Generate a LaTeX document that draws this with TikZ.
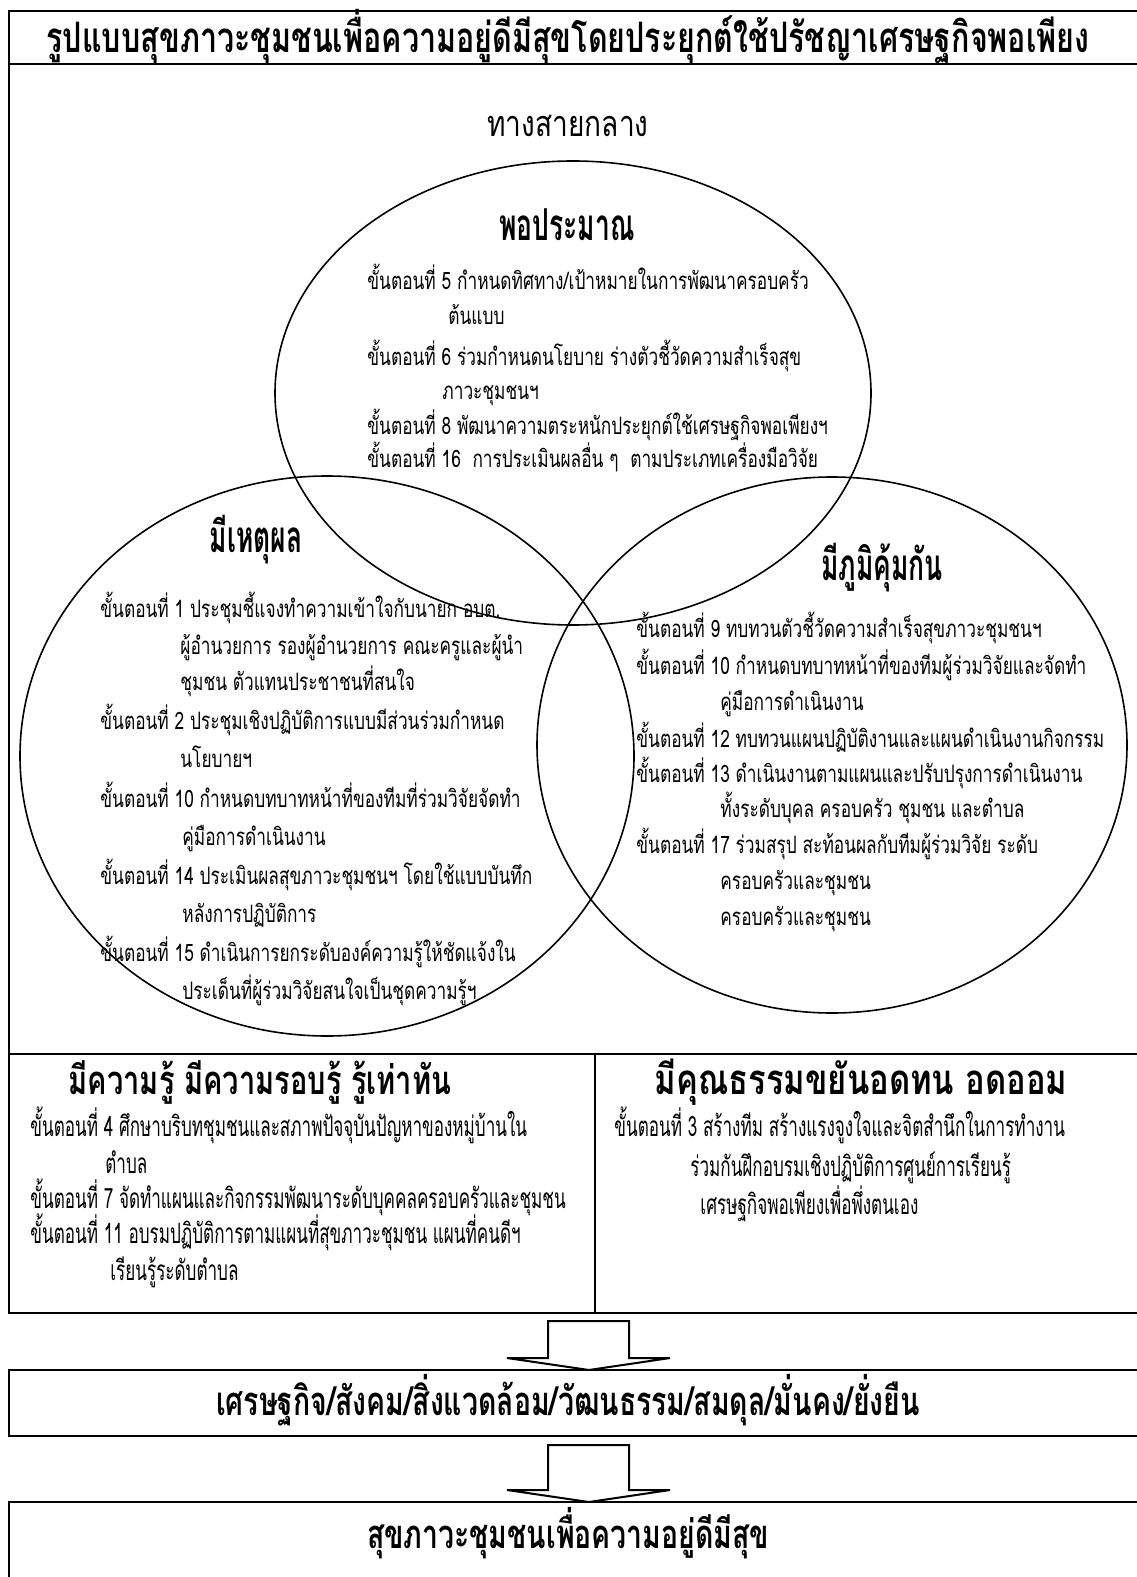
\documentclass[tikz,border=0pt]{standalone}
\usepackage{fontspec}
\usetikzlibrary{shapes.geometric}
\newfontfamily\thaiT[Script=Thai,FakeStretch=0.725]{Loma}
\newfontfamily\thaiBX[Script=Thai,FakeStretch=0.71]{Loma}
\newfontfamily\thaiM[Script=Thai,FakeStretch=0.78]{Loma}
\newfontfamily\thaiH[Script=Thai,FakeStretch=0.6]{Loma}
\newfontfamily\thaiB[Script=Thai,FakeStretch=0.72]{Loma}
\newfontfamily\thaiL[Script=Thai,FakeStretch=0.61]{Loma}
\tikzset{
  frame/.style={draw=black,line width=1pt},
  head/.style={inner sep=0,font=\thaiT\bfseries\fontsize{21}{24}\selectfont},
  boxhead/.style={inner sep=0,font=\thaiBX\bfseries\fontsize{20}{24}\selectfont},
  circhead/.style={inner sep=0,font=\thaiH\bfseries\fontsize{22}{26}\selectfont},
  bodyt/.style={anchor=base west,inner sep=0,font=\thaiB\fontsize{12}{14}\selectfont},
  lowt/.style={anchor=base west,inner sep=0,font=\thaiL\fontsize{14}{16}\selectfont},
  venn/.style={draw=black,line width=0.8pt,ellipse,inner sep=0},
  blockarrow/.style={draw=black,line width=1pt,fill=white},
}
\begin{document}
\begin{tikzpicture}[x=0.5pt,y=-0.5pt]
\useasboundingbox (0,0) rectangle (1136,1577);
\fill[white] (0,0) rectangle (1136,1577);
% main frame
\draw[frame] (9,11) rectangle (1145,1313);
\draw[frame] (9,64) -- (1145,64);
\draw[frame] (9,1054) -- (1145,1054);
\draw[frame] (595,1054) -- (595,1313);
\node[head] (title) at (568,36) {รูปแบบสุขภาวะชุมชนเพื่อความอยู่ดีมีสุขโดยประยุกต์ใช้ปรัชญาเศรษฐกิจพอเพียง};
\node[inner sep=0,font=\thaiM\fontsize{18}{20}\selectfont] (middle) at (568,126) {ทางสายกลาง};
% venn
\node[venn,minimum width=298pt,minimum height=232pt] (top) at (573,393) {};
\node[venn,minimum width=307pt,minimum height=280pt] (left) at (327,756) {};
\node[venn,minimum width=295pt,minimum height=268pt] (right) at (832,745) {};
% top circle
\node[circhead] (h1) at (567,225) {พอประมาณ};
\node[bodyt] (t1) at (367,290) {ขั้นตอนที่ 5 กำหนดทิศทาง/เป้าหมายในการพัฒนาครอบครัว};
\node[bodyt] (t2) at (448,325) {ต้นแบบ};
\node[bodyt] (t3) at (367,366) {ขั้นตอนที่ 6 ร่วมกำหนดนโยบาย ร่างตัวชี้วัดความสำเร็จสุข};
\node[bodyt] (t4) at (442,400) {ภาวะชุมชนฯ};
\node[bodyt] (t5) at (367,435) {ขั้นตอนที่ 8 พัฒนาความตระหนักประยุกต์ใช้เศรษฐกิจพอเพียงฯ};
\node[bodyt] (t6) at (367,467) {ขั้นตอนที่ 16~ การประเมินผลอื่น ๆ~ ตามประเภทเครื่องมือวิจัย};
% left circle
\node[circhead] (h2) at (256,540) {มีเหตุผล};
\node[bodyt] (l1) at (100,617) {ขั้นตอนที่ 1 ประชุมชี้แจงทำความเข้าใจกับนายก อบต.};
\node[bodyt] (l2) at (180,654) {ผู้อำนวยการ รองผู้อำนวยการ คณะครูและผู้นำ};
\node[bodyt] (l3) at (180,690) {ชุมชน ตัวแทนประชาชนที่สนใจ};
\node[bodyt] (l4) at (100,729) {ขั้นตอนที่ 2 ประชุมเชิงปฏิบัติการแบบมีส่วนร่วมกำหนด};
\node[bodyt] (l5) at (180,767) {นโยบายฯ};
\node[bodyt] (l6) at (100,807) {ขั้นตอนที่ 10 กำหนดบทบาทหน้าที่ของทีมที่ร่วมวิจัยจัดทำ};
\node[bodyt] (l7) at (182,845) {คู่มือการดำเนินงาน};
\node[bodyt] (l8) at (100,884) {ขั้นตอนที่ 14 ประเมินผลสุขภาวะชุมชนฯ โดยใช้แบบบันทึก};
\node[bodyt] (l9) at (182,922) {หลังการปฏิบัติการ};
\node[bodyt] (l10) at (100,961) {ขั้นตอนที่ 15 ดำเนินการยกระดับองค์ความรู้ให้ชัดแจ้งใน};
\node[bodyt] (l11) at (182,999) {ประเด็นที่ผู้ร่วมวิจัยสนใจเป็นชุดความรู้ฯ};
% right circle
\node[circhead] (h3) at (882,568) {มีภูมิคุ้มกัน};
\node[bodyt] (r1) at (636,637) {ขั้นตอนที่ 9 ทบทวนตัวชี้วัดความสำเร็จสุขภาวะชุมชนฯ};
\node[bodyt] (r2) at (636,674) {ขั้นตอนที่ 10 กำหนดบทบาทหน้าที่ของทีมผู้ร่วมวิจัยและจัดทำ};
\node[bodyt] (r3) at (720,710) {คู่มือการดำเนินงาน};
\node[bodyt] (r4) at (636,747) {ขั้นตอนที่ 12 ทบทวนแผนปฏิบัติงานและแผนดำเนินงานกิจกรรม};
\node[bodyt] (r5) at (636,782) {ขั้นตอนที่ 13 ดำเนินงานตามแผนและปรับปรุงการดำเนินงาน};
\node[bodyt] (r6) at (720,817) {ทั้งระดับบุคล ครอบครัว ชุมชน และตำบล};
\node[bodyt] (r7) at (636,853) {ขั้นตอนที่ 17 ร่วมสรุป สะท้อนผลกับทีมผู้ร่วมวิจัย ระดับ};
\node[bodyt] (r8) at (720,889) {ครอบครัวและชุมชน};
\node[bodyt] (r9) at (720,925) {ครอบครัวและชุมชน};
% lower boxes
\node[inner sep=0,font=\thaiT\bfseries\fontsize{20}{24}\selectfont] (h4) at (260,1082) {มีความรู้ มีความรอบรู้ รู้เท่าทัน};
\node[lowt] (b1) at (30,1136) {ขั้นตอนที่ 4 ศึกษาบริบทชุมชนและสภาพปัจจุบันปัญหาของหมู่บ้านใน};
\node[lowt] (b2) at (105,1173) {ตำบล};
\node[lowt] (b3) at (30,1208) {ขั้นตอนที่ 7 จัดทำแผนและกิจกรรมพัฒนาระดับบุคคลครอบครัวและชุมชน};
\node[lowt] (b4) at (30,1243) {ขั้นตอนที่ 11 อบรมปฏิบัติการตามแผนที่สุขภาวะชุมชน แผนที่คนดีฯ};
\node[lowt] (b5) at (110,1280) {เรียนรู้ระดับตำบล};
\node[inner sep=0,font=\thaiM\bfseries\fontsize{21}{24}\selectfont] (h5) at (861,1082) {มีคุณธรรมขยันอดทน อดออม};
\node[lowt] (c1) at (614,1136) {ขั้นตอนที่ 3 สร้างทีม สร้างแรงจูงใจและจิตสำนึกในการทำงาน};
\node[lowt] (c2) at (690,1176) {ร่วมกันฝึกอบรมเชิงปฏิบัติการศูนย์การเรียนรู้};
\node[lowt] (c3) at (700,1214) {เศรษฐกิจพอเพียงเพื่อพึ่งตนเอง};
% arrow 1
\draw[blockarrow] (548,1321) -- (629,1321) -- (629,1358) -- (670,1358) -- (589,1370) -- (507,1358) -- (548,1358) -- cycle;
% box 2
\draw[frame] (9,1370) rectangle (1145,1436);
\node[boxhead] (res) at (568,1400) {เศรษฐกิจ/สังคม/สิ่งแวดล้อม/วัฒนธรรม/สมดุล/มั่นคง/ยั่งยืน};
% arrow 2
\draw[blockarrow] (548,1445) -- (629,1445) -- (629,1490) -- (670,1490) -- (589,1502) -- (507,1490) -- (548,1490) -- cycle;
% box 3
\draw[frame] (9,1502) rectangle (1145,1600);
\node[boxhead] (goal) at (568,1533) {สุขภาวะชุมชนเพื่อความอยู่ดีมีสุข};
\end{tikzpicture}
\end{document}
